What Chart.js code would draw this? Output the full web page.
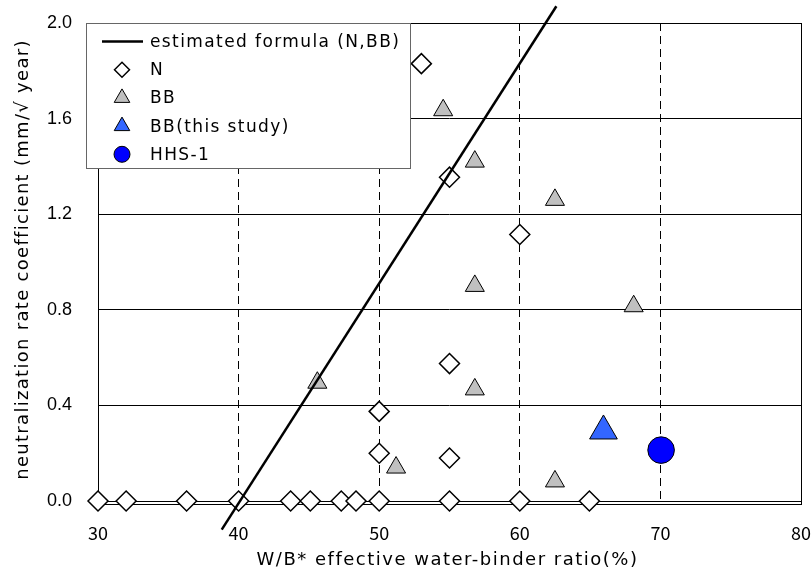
<!DOCTYPE html>
<html>
<head>
<meta charset="utf-8">
<script src="https://cdn.jsdelivr.net/npm/chart.js"></script>
<style>
  html, body { margin: 0; padding: 0; background: #fff; }
  #wrap { width: 812px; height: 585px; }
</style>
</head>
<body>
<div id="wrap"><canvas id="chart" width="812" height="585"></canvas></div>
<script>
// values
const formulaX = [38.8, 62.6];
const formulaY = [-0.12, 2.07];

const nX = [30, 32, 36.3, 40, 43.7, 45.1, 47.3, 48.35, 50, 55, 60, 64.95, 50, 50, 55, 55, 55, 60, 53];
const nY = [0, 0, 0, 0, 0, 0, 0, 0, 0, 0, 0, 0, 0.375, 0.2, 0.18, 0.575, 1.355, 1.115, 1.83];

const bbX = [45.6, 51.2, 54.55, 56.8, 56.8, 56.8, 62.5, 62.5, 68.1];
const bbY = [0.495, 0.14, 1.635, 1.42, 0.9, 0.467, 1.26, 0.082, 0.815];

const studyX = [65.95];
const studyY = [0.293];

const hhsX = [70.05];
const hhsY = [0.213];

const xTicks = [30, 40, 50, 60, 70, 80];
const yTicks = [0, 0.4, 0.8, 1.2, 1.6, 2.0];

const xTitle = 'W/B* effective water-binder ratio(%)';
const yTitle = 'neutralization rate coefficient (mm/√ year)';

const wide = '"DejaVu Sans", "Noto Sans CJK JP", sans-serif';
const gothic = '"Noto Sans CJK JP", "Noto Sans", sans-serif';
const arial = '"Liberation Sans", Arial, sans-serif';

const pts = (xs, ys) => xs.map((x, i) => ({ x: x, y: ys[i] }));

// solid frame round the plot area
const frame = {
    id: 'frame',
    beforeDatasetsDraw(chart) {
        const { ctx, chartArea: a } = chart;
        ctx.save();
        ctx.strokeStyle = '#000';
        ctx.lineWidth = 1;
        ctx.setLineDash([]);
        ctx.strokeRect(Math.round(a.left) + 0.5, Math.round(a.top) + 0.5,
            Math.round(a.right - a.left), Math.round(a.bottom - a.top));
        ctx.restore();
    }
};

// axis titles, drawn by hand so the letter spacing can match
const axisTitles = {
    id: 'axisTitles',
    afterDraw(chart) {
        const { ctx, chartArea: a } = chart;
        ctx.save();
        ctx.fillStyle = '#000';
        ctx.font = '18px ' + wide;
        ctx.textAlign = 'center';
        ctx.textBaseline = 'middle';
        ctx.letterSpacing = '1.5px';
        ctx.fillText(xTitle, (a.left + a.right) / 2 - 2, 560);
        ctx.letterSpacing = '1.3px';
        ctx.translate(23, (a.top + a.bottom) / 2 - 4);
        ctx.rotate(-Math.PI / 2);
        ctx.fillText(yTitle, 0, 0);
        ctx.restore();
    }
};

// boxed legend in the upper left corner
const legendBox = {
    id: 'legendBox',
    afterDraw(chart) {
        const ctx = chart.ctx;
        ctx.save();
        ctx.fillStyle = '#fff';
        ctx.fillRect(86, 23, 325, 146);
        ctx.strokeStyle = '#666';
        ctx.lineWidth = 1;
        ctx.strokeRect(86.5, 23.5, 324, 145);

        chart.data.datasets.forEach((ds, i) => {
            const y = 41.5 + i * 28.2;
            if (ds.showLine) {
                ctx.strokeStyle = ds.borderColor;
                ctx.lineWidth = ds.borderWidth;
                ctx.beginPath();
                ctx.moveTo(102, y);
                ctx.lineTo(143, y);
                ctx.stroke();
            } else {
                ctx.fillStyle = ds.backgroundColor;
                ctx.strokeStyle = ds.borderColor;
                ctx.lineWidth = ds.borderWidth;
                Chart.helpers.drawPoint(ctx, {
                    pointStyle: ds.pointStyle,
                    radius: ds.legendRadius,
                    rotation: 0,
                    borderWidth: ds.borderWidth
                }, 122, y);
            }
            ctx.fillStyle = '#000';
            ctx.font = '17px ' + wide;
            ctx.letterSpacing = '1.4px';
            ctx.textBaseline = 'middle';
            ctx.textAlign = 'left';
            ctx.fillText(ds.label, 150, y + 1);
        });
        ctx.restore();
    }
};

new Chart(document.getElementById('chart').getContext('2d'), {
    type: 'scatter',
    data: {
        datasets: [
            {
                label: 'estimated formula (N,BB)',
                data: pts(formulaX, formulaY),
                showLine: true,
                borderColor: '#000',
                borderWidth: 2.5,
                pointRadius: 0,
                clip: false
            },
            {
                label: 'N',
                data: pts(nX, nY),
                pointStyle: 'rectRot',
                pointRadius: 10,
                legendRadius: 7.5,
                backgroundColor: '#fff',
                borderColor: '#000',
                borderWidth: 1.5,
                clip: false
            },
            {
                label: 'BB',
                data: pts(bbX, bbY),
                pointStyle: 'triangle',
                pointRadius: 11,
                legendRadius: 9,
                backgroundColor: '#c0c0c0',
                borderColor: '#000',
                borderWidth: 1,
                clip: false
            },
            {
                label: 'BB(this study)',
                data: pts(studyX, studyY),
                pointStyle: 'triangle',
                pointRadius: 16,
                legendRadius: 9,
                backgroundColor: '#3366ff',
                borderColor: '#000',
                borderWidth: 1,
                clip: false
            },
            {
                label: 'HHS-1',
                data: pts(hhsX, hhsY),
                pointStyle: 'circle',
                pointRadius: 13.3,
                legendRadius: 8,
                backgroundColor: '#0000ff',
                borderColor: '#000',
                borderWidth: 1,
                clip: false
            }
        ]
    },
    options: {
        responsive: false,
        animation: false,
        devicePixelRatio: 1,
        layout: { autoPadding: false, padding: { top: 23, right: 11, left: 0, bottom: 0 } },
        plugins: {
            legend: { display: false },
            tooltip: { enabled: false }
        },
        scales: {
            x: {
                type: 'linear',
                min: 30,
                max: 80,
                afterBuildTicks: (s) => { s.ticks = xTicks.map(v => ({ value: v })); },
                afterFit: (s) => { s.height = 81; s.paddingLeft = 0; s.paddingRight = 0; },
                grid: { color: '#000', lineWidth: 1, drawTicks: false },
                border: { display: false, dash: [8, 5] },
                ticks: { padding: 18, color: '#000', font: { family: gothic, size: 18 } }
            },
            y: {
                type: 'linear',
                min: -0.0125,
                max: 2.0,
                afterBuildTicks: (s) => { s.ticks = yTicks.map(v => ({ value: v })); },
                afterFit: (s) => { s.width = 98; s.paddingTop = 0; s.paddingBottom = 0; },
                grid: { color: '#000', lineWidth: 1, drawTicks: false },
                border: { display: false },
                ticks: {
                    padding: 26,
                    color: '#000',
                    font: { family: arial, size: 18 },
                    callback: (v) => Number(v).toFixed(1)
                }
            }
        }
    },
    plugins: [frame, axisTitles, legendBox]
});
</script>
</body>
</html>
